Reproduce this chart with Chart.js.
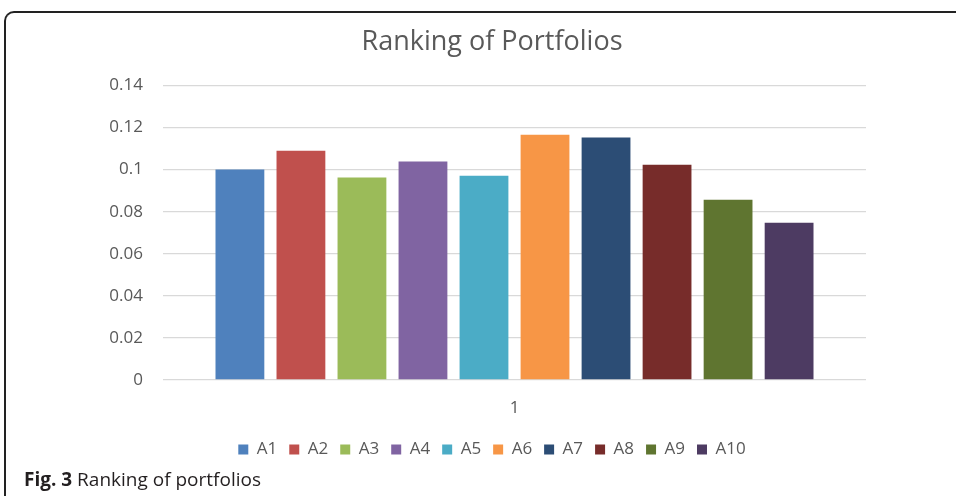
<!DOCTYPE html>
<html>
<head>
<meta charset="utf-8">
<script src="https://cdn.jsdelivr.net/npm/chart.js@4"></script>
<style>
  html, body { margin: 0; padding: 0; background: #fff; }
  body { width: 956px; height: 496px; position: relative; overflow: hidden; font-family: "Open Sans", sans-serif; }
  #frame { position: absolute; left: 4px; top: 11px; width: 1000px; height: 600px; border-left: 2px solid #222; border-top: 2px solid #222; border-top-left-radius: 10px; box-sizing: border-box; }
  #wrap { position: absolute; left: 0; top: 0; width: 956px; height: 480px; }
  #caption { position: absolute; left: 24px; top: 466px; font-size: 19px; color: #231f20; white-space: nowrap; }
  #caption b { font-weight: 700; }
</style>
</head>
<body>
<div id="frame"></div>
<div id="wrap"><canvas id="c"></canvas></div>
<div id="caption"><b>Fig. 3</b> Ranking of portfolios</div>
<script>
const categories = ["1"];
const seriesNames = ["A1", "A2", "A3", "A4", "A5", "A6", "A7", "A8", "A9", "A10"];
const seriesValues = [0.100, 0.109, 0.0962, 0.1038, 0.0971, 0.1166, 0.1152, 0.1023, 0.0857, 0.0747];
const seriesColors = ["#4F81BD", "#C0504D", "#9BBB59", "#8064A2", "#4BACC6", "#F79646", "#2C4D75", "#772C2A", "#5F7530", "#4D3B62"];
const yTicks = [0, 0.02, 0.04, 0.06, 0.08, 0.1, 0.12, 0.14];

const datasets = seriesNames.map((name, i) => ({
  label: name,
  data: [seriesValues[i]],
  backgroundColor: seriesColors[i],
  borderWidth: 0,
  categoryPercentage: 0.868,
  barPercentage: 0.80
}));

new Chart(document.getElementById("c"), {
  type: "bar",
  data: { labels: categories, datasets },
  options: {
    responsive: true,
    maintainAspectRatio: false,
    animation: false,
    layout: { padding: { left: 28, right: 0, top: 0, bottom: 12 } },
    plugins: {
      title: {
        display: true,
        text: "Ranking of Portfolios",
        color: "#595959",
        font: { family: "Open Sans", size: 27, weight: "normal" },
        padding: { top: 26, bottom: 27 }
      },
      legend: {
        position: "bottom",
        labels: {
          color: "#595959",
          font: { family: "Open Sans", size: 17 },
          boxWidth: 10,
          boxHeight: 10,
          padding: 12
        }
      },
      tooltip: { enabled: false }
    },
    scales: {
      x: {
        afterFit: (s) => { s.height = 49; },
        grid: { display: false, drawTicks: false },
        border: { display: false },
        ticks: { color: "#595959", font: { family: "Open Sans", size: 17 }, padding: 18 }
      },
      y: {
        min: 0,
        max: 0.14,
        afterFit: (s) => { s.width = 135; },
        afterBuildTicks: (s) => { s.ticks = yTicks.map(v => ({ value: v })); },
        grid: { color: "#d9d9d9", lineWidth: 1.3, drawTicks: false },
        border: { display: false },
        ticks: {
          color: "#595959",
          font: { family: "Open Sans", size: 17 },
          padding: 20,
          callback: (v) => String(Math.round(v * 100) / 100)
        }
      },
      yRight: {
        position: "right",
        min: 0,
        max: 0.14,
        afterFit: (s) => { s.width = 90; },
        grid: { display: false, drawTicks: false },
        border: { display: false },
        ticks: { display: false }
      }
    }
  }
});
</script>
</body>
</html>
